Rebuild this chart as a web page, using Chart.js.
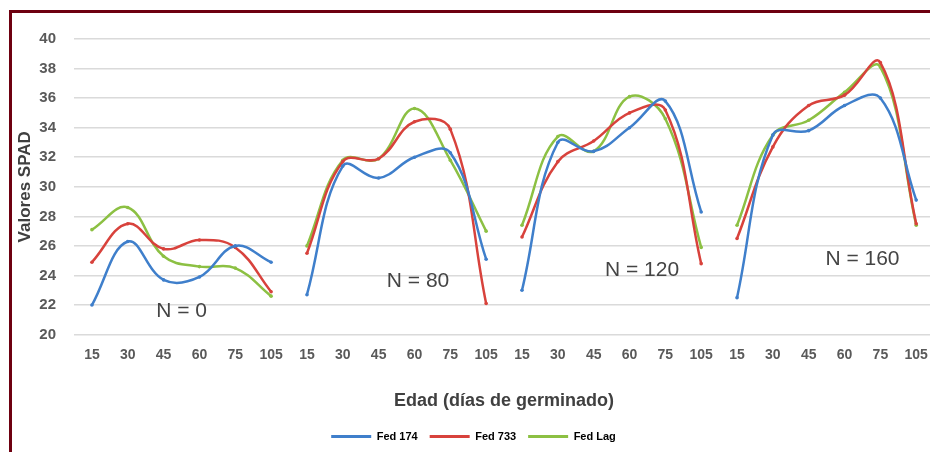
<!DOCTYPE html>
<html>
<head>
<meta charset="utf-8">
<script src="https://cdn.jsdelivr.net/npm/chart.js@4.4.1/dist/chart.umd.min.js"></script>
<style>
  html, body { margin: 0; padding: 0; background: #fff; overflow: hidden; }
  #wrap { position: absolute; left: 0; top: 0; width: 940px; height: 452px; }
  #frame {
    position: absolute; left: 9px; top: 10px; width: 940px; height: 460px;
    border-left: 3px solid #6e0010; border-top: 3px solid #6e0010;
    pointer-events: none;
  }
</style>
</head>
<body>
<div id="wrap"><canvas id="graphCanvas"></canvas></div>
<div id="frame"></div>
<script>
// ages (days after germination), repeated once per nitrogen level
const ageLabels = ['15', '30', '45', '60', '75', '105'];
const nitrogenLevels = ['N = 0', 'N = 80', 'N = 120', 'N = 160'];
const seriesNames = ['Fed 174', 'Fed 733', 'Fed Lag'];

// SPAD values, 6 ages x 4 nitrogen levels
const fed174 = [22.0, 26.3, 23.7, 23.9, 26.0, 24.9,
                22.7, 31.4, 30.6, 32.0, 32.3, 25.1,
                23.0, 33.0, 32.4, 34.0, 35.8, 28.3,
                22.5, 33.5, 33.8, 35.5, 36.0, 29.1];
const fed733 = [24.9, 27.5, 25.8, 26.4, 25.9, 22.9,
                25.5, 31.7, 31.9, 34.4, 33.9, 22.1,
                26.6, 31.7, 33.1, 35.0, 35.2, 24.8,
                26.5, 32.7, 35.5, 36.2, 38.4, 27.5];
const fedLag = [27.1, 28.6, 25.3, 24.6, 24.5, 22.6,
                26.0, 31.8, 31.9, 35.3, 31.8, 27.0,
                27.4, 33.4, 32.4, 36.1, 34.6, 25.9,
                27.4, 33.5, 34.5, 36.4, 38.1, 27.4];

const yTicks = [20, 22, 24, 26, 28, 30, 32, 34, 36, 38, 40];

const seriesValues = [fed174, fed733, fedLag];
const seriesColors = ['#3f7fcb', '#d8423c', '#8cc043'];

// where the "N = ..." notes sit, in axis units (category index, SPAD)
const noteAt = [[2.5, 21.6], [9.1, 23.6], [15.35, 24.35], [21.5, 25.1]];

const allLabels = nitrogenLevels.flatMap(() => ageLabels);

// one dataset per series and nitrogen level so the groups are not joined
const datasets = [];
seriesValues.forEach((vals, s) => {
  nitrogenLevels.forEach((_, g) => {
    datasets.push({
      label: seriesNames[s],
      data: ageLabels.map((_, i) => ({ x: g * 6 + i, y: vals[g * 6 + i] })),
      borderColor: seriesColors[s],
      backgroundColor: seriesColors[s],
      borderWidth: 2.5,
      pointRadius: 1.8,
      pointBorderWidth: 0,
      tension: 0.4,
      fill: false
    });
  });
});

const notesPlugin = {
  id: 'notes',
  afterDatasetsDraw(chart) {
    const { ctx, scales } = chart;
    ctx.save();
    ctx.font = '21px "Liberation Sans", Arial, sans-serif';
    ctx.fillStyle = '#444444';
    ctx.textAlign = 'center';
    ctx.textBaseline = 'middle';
    nitrogenLevels.forEach((txt, g) => {
      ctx.fillText(txt, scales.x.getPixelForValue(noteAt[g][0]), scales.y.getPixelForValue(noteAt[g][1]));
    });
    ctx.restore();
  }
};

const ctx = document.getElementById('graphCanvas').getContext('2d');
new Chart(ctx, {
  type: 'line',
  data: { datasets: datasets },
  plugins: [notesPlugin],
  options: {
    responsive: true,
    maintainAspectRatio: false,
    animation: false,
    layout: { padding: { left: 12, right: 5, top: 39, bottom: 0 } },
    scales: {
      x: {
        type: 'linear',
        min: -0.5,
        max: allLabels.length - 0.5,
        afterBuildTicks: (s) => { s.ticks = allLabels.map((_, k) => ({ value: k })); },
        grid: { display: false, drawTicks: false },
        border: { display: false },
        ticks: {
          autoSkip: false,
          maxRotation: 0,
          padding: 12,
          color: '#595959',
          font: { family: '"Liberation Sans", Arial, sans-serif', size: 14, weight: 'bold' },
          callback: (v) => allLabels[v]
        },
        title: {
          display: true,
          text: 'Edad (días de germinado)',
          color: '#404040',
          font: { family: '"Liberation Sans", Arial, sans-serif', size: 18, weight: 'bold' },
          padding: { top: 15, bottom: 7 }
        }
      },
      y: {
        min: 20,
        max: 40,
        afterBuildTicks: (s) => { s.ticks = yTicks.map(v => ({ value: v })); },
        afterFit: (s) => { s.width = 62; },
        grid: { color: '#dadada', lineWidth: 1.5, drawTicks: false },
        border: { display: false },
        ticks: {
          padding: 18,
          color: '#595959',
          font: { family: '"Liberation Sans", Arial, sans-serif', size: 15, weight: 'bold' }
        },
        title: {
          display: true,
          text: 'Valores SPAD',
          color: '#404040',
          font: { family: '"Liberation Sans", Arial, sans-serif', size: 17, weight: 'bold' },
          padding: { top: 3, bottom: 0 }
        }
      }
    },
    plugins: {
      tooltip: { enabled: false },
      legend: {
        position: 'bottom',
        labels: {
          boxWidth: 40,
          boxHeight: 3,
          padding: 12,
          color: '#595959',
          font: { family: '"Liberation Sans", Arial, sans-serif', size: 11, weight: 'bold' },
          generateLabels: () => seriesNames.map((name, s) => ({
            text: name,
            fillStyle: seriesColors[s],
            strokeStyle: seriesColors[s],
            lineWidth: 0,
            hidden: false,
            datasetIndex: s * nitrogenLevels.length
          }))
        }
      }
    }
  }
});
</script>
</body>
</html>
